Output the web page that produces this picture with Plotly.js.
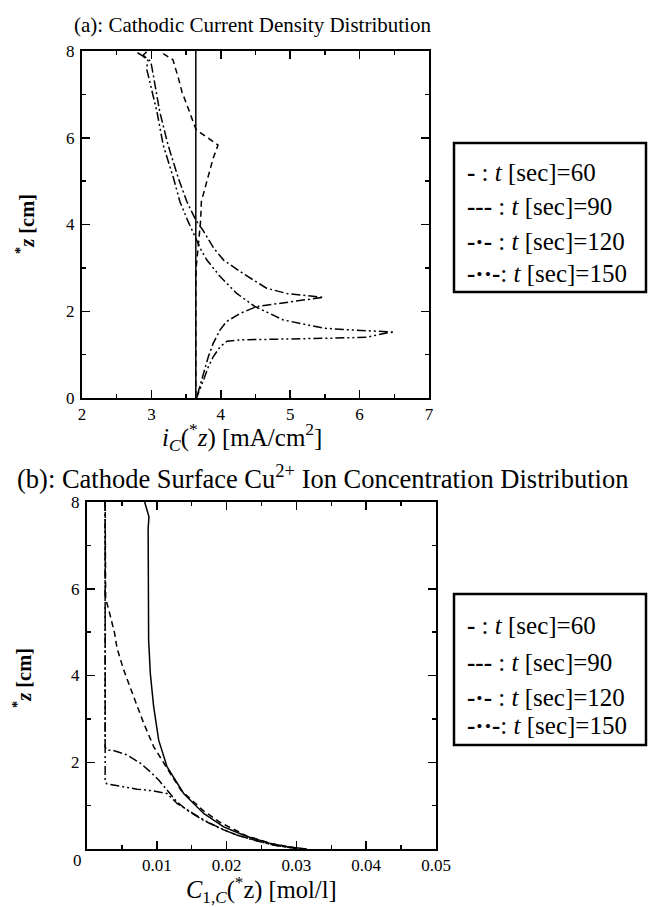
<!DOCTYPE html>
<html>
<head>
<meta charset="utf-8">
<script src="https://cdn.plot.ly/plotly-3.0.1.min.js"></script>
<style>html,body{margin:0;padding:0;background:#fff;}#chart{width:648px;height:907px;}</style>
</head>
<body>
<div id="chart"></div>
<script>
// ---------- Panel (a): cathodic current density i_C(*z) [mA/cm2] vs *z [cm] ----------
const a60_x = [3.64, 3.64];
const a60_z = [0.0, 8.0];

const a90_x = [3.17, 3.31, 3.39, 3.44, 3.53, 3.61, 3.64, 3.72, 3.96, 3.89, 3.82, 3.77, 3.72, 3.71, 3.67, 3.645, 3.64, 3.64];
const a90_z = [7.94, 7.80, 7.37, 7.06, 6.68, 6.33, 6.20, 6.10, 5.83, 5.53, 5.14, 4.83, 4.53, 4.10, 3.50, 3.00, 2.50, 0.0];

const a120_x = [2.93, 2.88, 2.99, 3.01, 3.12, 3.24, 3.39, 3.51, 3.64, 3.75, 3.90, 4.04, 4.32, 4.66, 4.95, 5.24, 5.48, 5.38, 5.14, 4.85, 4.52, 4.28, 4.08, 3.99, 3.89, 3.82, 3.75, 3.70, 3.65];
const a120_z = [7.98, 7.90, 7.76, 7.60, 6.60, 5.83, 5.06, 4.53, 4.10, 3.85, 3.45, 3.18, 2.87, 2.53, 2.41, 2.37, 2.32, 2.30, 2.25, 2.19, 2.11, 1.95, 1.76, 1.57, 1.26, 0.95, 0.57, 0.26, 0.0];

const a150_x = [2.80, 2.88, 2.95, 2.93, 3.08, 3.17, 3.32, 3.41, 3.52, 3.64, 3.72, 3.80, 3.99, 4.23, 4.49, 4.90, 5.48, 5.86, 6.20, 6.50, 6.39, 6.10, 5.62, 5.14, 4.66, 4.28, 4.09, 3.99, 3.89, 3.82, 3.75, 3.70, 3.65];
const a150_z = [7.96, 7.88, 7.78, 7.60, 6.60, 5.83, 5.06, 4.53, 4.10, 3.70, 3.40, 3.18, 2.80, 2.41, 2.11, 1.80, 1.61, 1.57, 1.55, 1.52, 1.50, 1.40, 1.38, 1.36, 1.34, 1.34, 1.31, 1.18, 0.95, 0.72, 0.41, 0.18, 0.0];

// ---------- Panel (b): cathode surface Cu2+ concentration C_1,C(*z) [mol/l] vs *z [cm] ----------
const b60_x = [0.00826, 0.00888, 0.00876, 0.00874, 0.00876, 0.00883, 0.00907, 0.00955, 0.01027, 0.01146, 0.01385, 0.01671, 0.01958, 0.02292, 0.02627, 0.02865, 0.0315];
const b60_z = [8.0, 7.66, 7.40, 6.00, 5.00, 4.82, 4.05, 3.28, 2.51, 1.90, 1.28, 0.82, 0.51, 0.29, 0.13, 0.05, 0.0];

const b90_x = [0.0026, 0.0026, 0.00267, 0.00325, 0.00396, 0.0043, 0.00525, 0.00669, 0.00812, 0.00955, 0.01098, 0.01194, 0.0135, 0.0167, 0.0191, 0.0229, 0.0265, 0.0300];
const b90_z = [8.0, 5.85, 5.78, 5.43, 4.97, 4.63, 4.13, 3.51, 2.90, 2.36, 1.98, 1.74, 1.35, 0.88, 0.61, 0.30, 0.12, 0.02];

const b120_x = [0.0026, 0.0026, 0.00287, 0.0038, 0.00573, 0.00764, 0.00907, 0.01027, 0.01146, 0.0129, 0.0145, 0.0167, 0.0191, 0.0215, 0.0240, 0.0268, 0.0300];
const b120_z = [8.0, 2.35, 2.28, 2.27, 2.17, 1.98, 1.78, 1.59, 1.36, 1.08, 0.88, 0.66, 0.47, 0.32, 0.20, 0.09, 0.01];

const b150_x = [0.0026, 0.0026, 0.00287, 0.00478, 0.00716, 0.00955, 0.01146, 0.0129, 0.01433, 0.01671, 0.0191, 0.0215, 0.0239, 0.0267, 0.0296];
const b150_z = [8.0, 1.55, 1.50, 1.44, 1.38, 1.34, 1.28, 1.05, 0.90, 0.67, 0.48, 0.32, 0.21, 0.09, 0.02];

// ---------- tick labels / texts ----------
const aXTicks = [2, 3, 4, 5, 6, 7];
const aXMinor = [2.5, 3.5, 4.5, 5.5, 6.5];
const zTicks = [0, 2, 4, 6, 8];
const zMinor = [1, 3, 5, 7];
const aZLabels = ['0', '2', '4', '6', '8'];
const bZLabels = ['', '2', '4', '6', '8'];
const bXTicks = [0, 0.01, 0.02, 0.03, 0.04, 0.05];
const bXLabels = ['', '0.01', '0.02', '0.03', '0.04', '0.05'];
const bXMinor = [0.005, 0.015, 0.025, 0.035, 0.045];
const legendMarks = ['-', '---', '-·-', '-··-'];
const legendTimes = ['60', '90', '120', '150'];

// ---------- layout helpers ----------
const W = 648, H = 907;
const px = v => v / W;
const py = v => 1 - v / H;
const FONT = 'Liberation Serif';
const dashes = ['solid', '6px,4px', '9px,3px,2px,3px', '9px,3px,2px,3px,2px,3px'];

function line(x, y, i, xa, ya) {
  return {x: x, y: y, xaxis: xa, yaxis: ya, type: 'scatter', mode: 'lines',
          line: {color: '#000', width: 1.5, dash: dashes[i]}, showlegend: false, hoverinfo: 'skip'};
}

const data = [
  line(a60_x, a60_z, 0, 'x', 'y'),
  line(a90_x, a90_z, 1, 'x', 'y'),
  line(a120_x, a120_z, 2, 'x', 'y'),
  line(a150_x, a150_z, 3, 'x', 'y'),
  line(b60_x, b60_z, 0, 'x2', 'y2'),
  line(b90_x, b90_z, 1, 'x2', 'y2'),
  line(b120_x, b120_z, 2, 'x2', 'y2'),
  line(b150_x, b150_z, 3, 'x2', 'y2')
];

function axisBase() {
  return {showline: true, linewidth: 2, linecolor: '#000', mirror: 'ticks', ticks: 'inside',
          ticklen: 8, tickwidth: 1.5, tickcolor: '#000', showgrid: false, zeroline: false,
          tickfont: {family: FONT, size: 17, color: '#000'}, fixedrange: true};
}
function minor(vals) {
  return {tickvals: vals, ticks: 'inside', ticklen: 4, tickwidth: 1.5, tickcolor: '#000', showgrid: false};
}

const layout = {
  width: W, height: H,
  margin: {l: 0, r: 0, t: 0, b: 0},
  paper_bgcolor: '#fff', plot_bgcolor: '#fff',
  font: {family: FONT, color: '#000'},
  xaxis: Object.assign(axisBase(), {domain: [px(82), px(429)], range: [2, 7], anchor: 'y',
          tickvals: aXTicks, ticktext: aXTicks.map(String), minor: minor(aXMinor)}),
  yaxis: Object.assign(axisBase(), {domain: [py(398), py(51)], range: [0, 8], anchor: 'x',
          tickvals: zTicks, ticktext: aZLabels, minor: minor(zMinor), ticklabelstandoff: 2}),
  xaxis2: Object.assign(axisBase(), {domain: [px(87), px(436)], range: [0, 0.05], anchor: 'y2',
          tickvals: bXTicks, ticktext: bXLabels, minor: minor(bXMinor)}),
  yaxis2: Object.assign(axisBase(), {domain: [py(849), py(502)], range: [0, 8], anchor: 'x2',
          tickvals: zTicks, ticktext: bZLabels, minor: minor(zMinor), ticklabelstandoff: 2}),
  shapes: [
    {type: 'rect', xref: 'paper', yref: 'paper', x0: px(454), x1: px(646), y0: py(292), y1: py(143),
     line: {color: '#000', width: 2.5}, fillcolor: 'rgba(0,0,0,0)'},
    {type: 'rect', xref: 'paper', yref: 'paper', x0: px(454), x1: px(646), y0: py(745), y1: py(594),
     line: {color: '#000', width: 2.5}, fillcolor: 'rgba(0,0,0,0)'}
  ],
  annotations: []
};

function ann(text, x, y, size, opts) {
  return Object.assign({text: text, xref: 'paper', yref: 'paper', x: px(x), y: py(y),
          xanchor: 'center', yanchor: 'middle', showarrow: false,
          font: {family: FONT, size: size, color: '#000'}}, opts || {});
}

layout.annotations.push(ann('(a): Cathodic Current Density Distribution', 252, 25, 21));
layout.annotations.push(ann('(b): Cathode Surface Cu<sup>2+</sup> Ion Concentration Distribution', 322, 477, 26.5));
layout.annotations.push(ann('<i>i<sub>C</sub></i>(<sup>*</sup><i>z</i>) [mA/cm<sup>2</sup>]', 242, 437, 25));
layout.annotations.push(ann('<i>C</i><sub>1,<i>C</i></sub>(<sup>*</sup>z) [mol/l]', 261, 890, 24.5));
layout.annotations.push(ann('<b><sup>*</sup><i>z</i> [cm]</b>', 25, 224, 20.5, {textangle: -90}));
layout.annotations.push(ann('<b><sup>*</sup><i>z</i> [cm]</b>', 22, 678, 20.5, {textangle: -90}));
layout.annotations.push(ann('0', 77, 860, 17));

const legTopY = [172, 207, 242, 273];
const legBotY = [625, 662, 697, 725];
for (let i = 0; i < 4; i++) {
  const t = '<b>' + legendMarks[i] + '</b>' + (i === 3 ? '' : ' ') + ': <i>t</i> [sec]=' + legendTimes[i];
  layout.annotations.push(ann(t, 465, legTopY[i], 25, {xanchor: 'left'}));
  layout.annotations.push(ann(t, 465, legBotY[i], 25, {xanchor: 'left'}));
}

Plotly.newPlot('chart', data, layout, {displayModeBar: false, staticPlot: true});
</script>
</body>
</html>
